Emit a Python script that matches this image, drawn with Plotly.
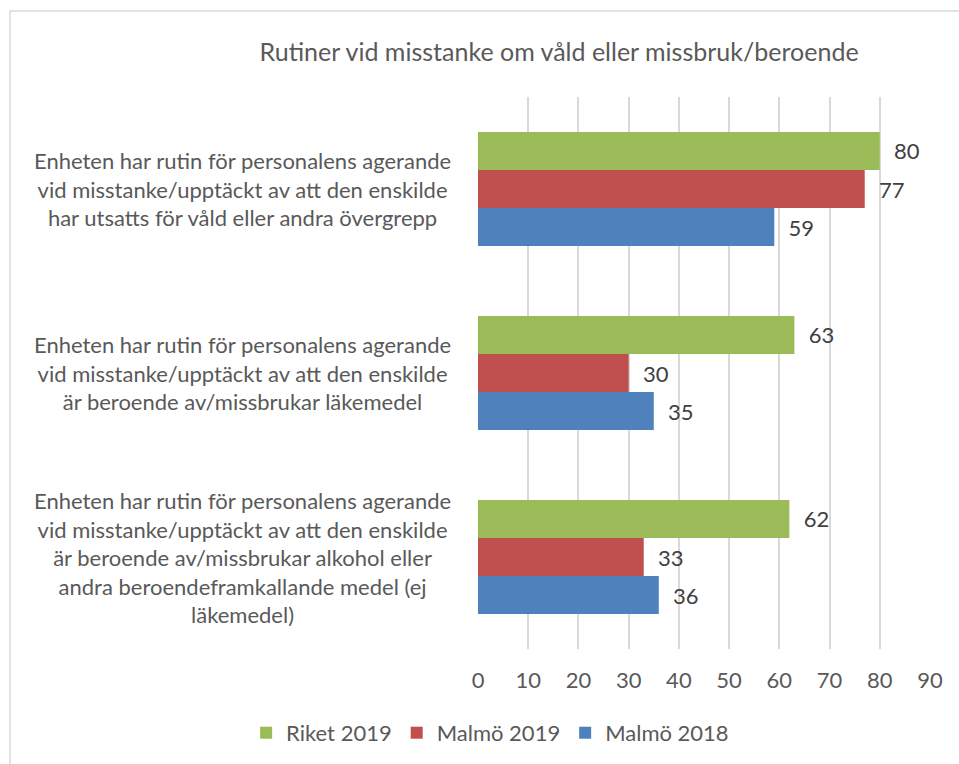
import plotly.graph_objects as go

categories = [
    "Enheten har rutin för personalens agerande<br>vid misstanke/upptäckt av att den enskilde<br>har utsatts för våld eller andra övergrepp",
    "Enheten har rutin för personalens agerande<br>vid misstanke/upptäckt av att den enskilde<br>är beroende av/missbrukar läkemedel",
    "Enheten har rutin för personalens agerande<br>vid misstanke/upptäckt av att den enskilde<br>är beroende av/missbrukar alkohol eller<br>andra beroendeframkallande medel (ej<br>läkemedel)",
]
cat_ids = ["c1", "c2", "c3"]
riket_2019 = [80, 63, 62]
malmo_2019 = [77, 30, 33]
malmo_2018 = [59, 35, 36]
x_ticks = [0, 10, 20, 30, 40, 50, 60, 70, 80, 90]

FONT = "Lato"
series = [
    ("Malmö 2018", malmo_2018, "#4F81BD"),
    ("Malmö 2019", malmo_2019, "#C0504D"),
    ("Riket 2019", riket_2019, "#9BBB59"),
]

fig = go.Figure()
for name, vals, col in series:
    fig.add_trace(go.Bar(
        y=cat_ids, x=vals, name=name, orientation="h",
        marker=dict(color=col, line=dict(width=0)),
        text=vals, texttemplate="\u00a0\u00a0%{x}", textposition="outside",
        textfont=dict(family=FONT, size=22, color="#404040"),
        cliponaxis=False,
    ))

for cid, lab in zip(cat_ids, categories):
    fig.add_annotation(
        x=-0.055, xref="paper", xanchor="right",
        y=cid, yref="y", yanchor="middle",
        text=lab, showarrow=False, align="center",
        font=dict(family=FONT, size=22, color="#595959"),
    )

fig.update_layout(
    width=959, height=764,
    margin=dict(l=478, r=29, t=97, b=115, autoexpand=False),
    paper_bgcolor="white", plot_bgcolor="white",
    barmode="group", bargap=0.38, bargroupgap=0,
    title=dict(text="Rutiner vid misstanke om våld eller missbruk/beroende",
               x=0.583, xanchor="center", y=0.932, yanchor="middle",
               font=dict(family=FONT, size=25, color="#595959")),
    xaxis=dict(range=[0, 90], tickvals=x_ticks, showgrid=True, gridcolor="#D9D9D9",
               gridwidth=1.5, zeroline=False, showline=False, ticks="",
               tickfont=dict(family=FONT, size=22, color="#595959"), ticklabelstandoff=16),
    yaxis=dict(categoryorder="array", categoryarray=cat_ids[::-1], showticklabels=False,
               showgrid=False, zeroline=False, showline=False, ticks=""),
    legend=dict(orientation="h", x=-0.513, xanchor="left",
                y=-0.152, yanchor="middle",
                traceorder="reversed", font=dict(family=FONT, size=22, color="#595959"),
                itemwidth=30),
    shapes=[
        dict(type="line", xref="paper", yref="paper", x0=-468/452, x1=1.2,
             y0=1 + 86/552, y1=1 + 86/552, line=dict(color="#D9D9D9", width=1.5)),
        dict(type="line", xref="paper", yref="paper", x0=-468/452, x1=-468/452,
             y0=1 + 86/552, y1=-0.3, line=dict(color="#D9D9D9", width=1.5)),
    ],
)

fig.write_html("out.html", config={"displayModeBar": False},
               post_script="document.body.style.margin='0';window.dispatchEvent(new Event('resize'));")
